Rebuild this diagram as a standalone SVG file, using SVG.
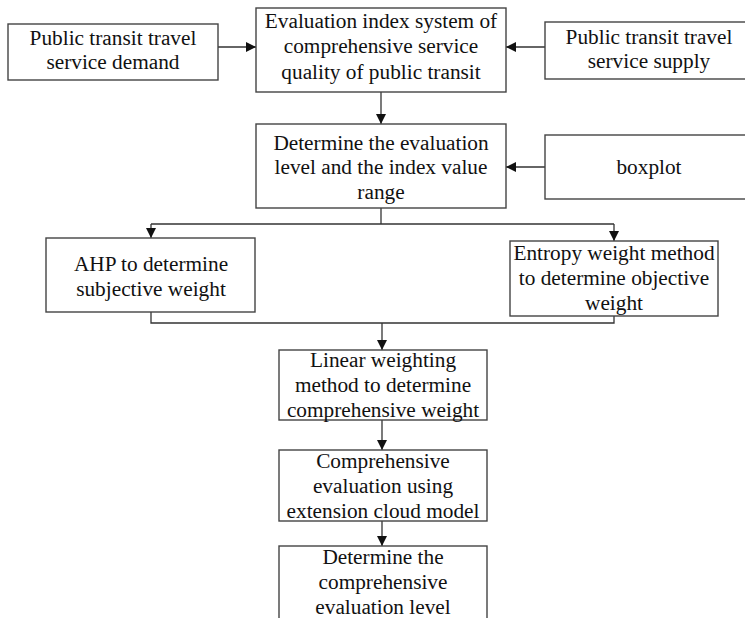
<svg xmlns="http://www.w3.org/2000/svg" width="745" height="618" viewBox="0 0 745 618">
<defs>
<marker id="ah" viewBox="0 0 10 10" refX="10" refY="5" markerWidth="10" markerHeight="10" markerUnits="userSpaceOnUse" orient="auto">
<path d="M0,0 L10,5 L0,10 Z" fill="#111"/>
</marker>
<style>
.box{fill:#fff;stroke:#444;stroke-width:1.4}
.t{font-family:"Liberation Serif","Times New Roman",serif;font-size:21.3px;fill:#111;text-anchor:middle}
.c{fill:none;stroke:#333;stroke-width:1.3}
</style>
</defs>
<rect width="745" height="618" fill="#fff"/>
<g id="connectors">
<path class="c" d="M218,47 H256" marker-end="url(#ah)"/>
<path class="c" d="M545,47 H506" marker-end="url(#ah)"/>
<path class="c" d="M381,92 V124" marker-end="url(#ah)"/>
<path class="c" d="M545,167 H506" marker-end="url(#ah)"/>
<path class="c" d="M381,208 V224"/>
<path class="c" d="M151,224 H614"/>
<path class="c" d="M151,224 V238" marker-end="url(#ah)"/>
<path class="c" d="M614,224 V241" marker-end="url(#ah)"/>
<path class="c" d="M151,312 V323 H614 V316"/>
<path class="c" d="M382,323 V350" marker-end="url(#ah)"/>
<path class="c" d="M382,420 V450" marker-end="url(#ah)"/>
<path class="c" d="M382,521 V546" marker-end="url(#ah)"/>
</g>
<g id="n-demand">
<rect class="box" x="8" y="24" width="210" height="56"/>
<text class="t" x="113" y="45">Public transit travel</text>
<text class="t" x="113" y="69">service demand</text>
</g>
<g id="n-index">
<rect class="box" x="256" y="8" width="250" height="84"/>
<text class="t" x="381" y="28">Evaluation index system of</text>
<text class="t" x="381" y="53">comprehensive service</text>
<text class="t" x="381" y="79">quality of public transit</text>
</g>
<g id="n-supply">
<rect class="box" x="545" y="22" width="205" height="57"/>
<text class="t" x="649" y="44">Public transit travel</text>
<text class="t" x="649" y="68">service supply</text>
</g>
<g id="n-level">
<rect class="box" x="256" y="124" width="250" height="84"/>
<text class="t" x="381" y="150">Determine the evaluation</text>
<text class="t" x="381" y="174">level and the index value</text>
<text class="t" x="381" y="199">range</text>
</g>
<g id="n-boxplot">
<rect class="box" x="545" y="135" width="205" height="64"/>
<text class="t" x="649" y="174">boxplot</text>
</g>
<g id="n-ahp">
<rect class="box" x="46" y="238" width="209" height="74"/>
<text class="t" x="151" y="271">AHP to determine</text>
<text class="t" x="151" y="296">subjective weight</text>
</g>
<g id="n-entropy">
<rect class="box" x="510" y="241" width="208" height="75"/>
<text class="t" x="614" y="260">Entropy weight method</text>
<text class="t" x="614" y="285">to determine objective</text>
<text class="t" x="614" y="310">weight</text>
</g>
<g id="n-linear">
<rect class="box" x="279" y="350" width="208" height="70"/>
<text class="t" x="383" y="367">Linear weighting</text>
<text class="t" x="383" y="392">method to determine</text>
<text class="t" x="383" y="417">comprehensive weight</text>
</g>
<g id="n-cloud">
<rect class="box" x="279" y="450" width="208" height="71"/>
<text class="t" x="383" y="468">Comprehensive</text>
<text class="t" x="383" y="493">evaluation using</text>
<text class="t" x="383" y="518">extension cloud model</text>
</g>
<g id="n-final">
<rect class="box" x="279" y="546" width="208" height="80"/>
<text class="t" x="383" y="564">Determine the</text>
<text class="t" x="383" y="589">comprehensive</text>
<text class="t" x="383" y="614">evaluation level</text>
</g>
</svg>
